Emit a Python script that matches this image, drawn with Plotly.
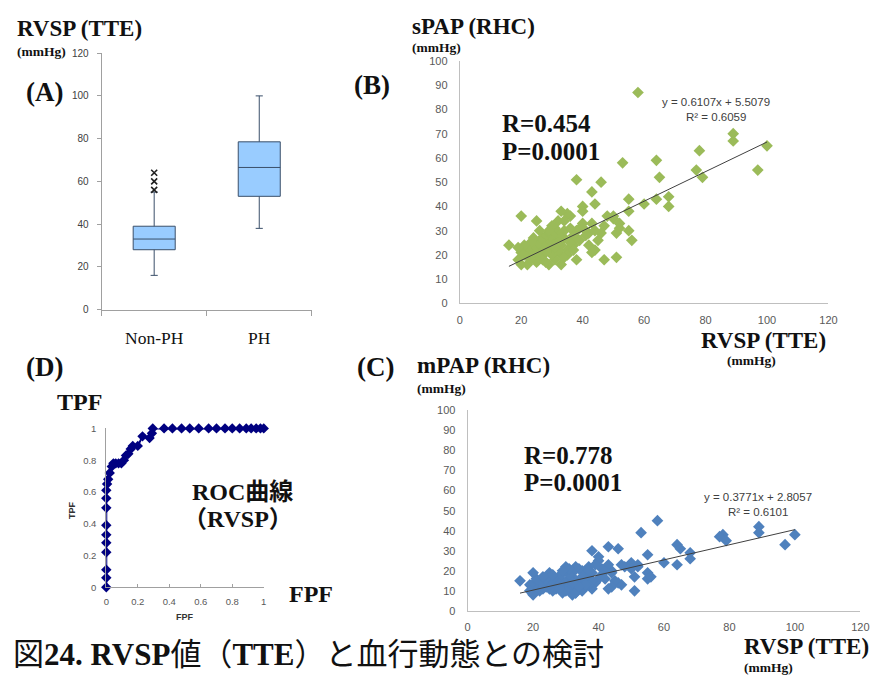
import plotly.graph_objects as go

W, H = 892, 681


def px(x):
    return x / W


def py(y):
    return 1 - y / H


SERIF = "Liberation Serif, Times New Roman, Noto Sans CJK JP"
SANS = "Liberation Sans, Arial, sans-serif"

# ---------------- (A) box plot ----------------
groups = ["Non-PH", "PH"]
q1_vals = [28, 53]
median_vals = [33, 66.5]
q3_vals = [39, 78.5]
lower_whisker = [16, 38]
upper_whisker = [55, 100]
outlier_group = ["Non-PH", "Non-PH", "Non-PH"]
outlier_vals = [56, 60, 64]

# ---------------- (B)/(C) scatter: RVSP (TTE) vs sPAP / mPAP (RHC) ----------------
rvsp = [100, 97, 89, 89, 78, 77, 79, 68, 68, 64, 65, 64, 60, 58, 55, 55, 55, 56, 53, 52,
        51, 51, 50, 52, 50, 48, 47, 46, 46, 47, 45, 44, 43, 44, 43, 43, 42, 41, 40, 40,
        41, 40, 39, 38, 38, 38, 38, 37, 37, 36, 36, 35, 35, 34, 34, 34, 33, 33, 33, 33,
        32, 32, 32, 31, 31, 31, 30, 30, 30, 29, 29, 29, 28, 28, 28, 27, 27, 27, 26, 26,
        26, 25, 25, 25, 25, 24, 24, 23, 23, 22, 22, 21, 21, 20, 20, 20, 19, 19, 16, 35,
        36, 37, 39, 42, 44, 31, 30, 29, 26, 33, 34, 28, 23, 32]
spap = [65, 55, 70, 67, 63, 55, 52, 44, 40, 59, 52, 43, 41, 87, 43, 38, 30, 26, 58, 33,
        19, 29, 35, 31, 36, 36, 18, 50, 29, 32, 26, 22, 46, 41, 21, 33, 29, 30, 40, 38,
        28, 33, 31, 51, 18, 30, 27, 24, 28, 36, 25, 37, 22, 30, 34, 27, 38, 16, 24, 20,
        29, 34, 22, 26, 18, 31, 25, 28, 20, 16, 23, 27, 25, 21, 28, 18, 24, 27, 22, 26,
        19, 34, 24, 20, 17, 27, 22, 20, 25, 16, 22, 20, 24, 36, 16, 21, 23, 18, 24, 20,
        31, 22, 26, 24, 30, 23, 32, 30, 30, 27, 19, 17, 18, 25]
mpap = [38, 33, 42, 39, 38, 37, 35, 29, 26, 33, 31, 23, 24, 45, 28, 19, 16, 17, 39, 22,
        10, 17, 24, 23, 21, 22, 13, 31, 14, 23, 15, 12, 32, 20, 11, 23, 20, 21, 27, 25,
        18, 16, 14, 30, 11, 19, 15, 13, 22, 17, 12, 20, 10, 15, 21, 13, 22, 9, 11, 14,
        17, 19, 8, 16, 12, 18, 14, 13, 10, 9, 15, 19, 12, 14, 17, 11, 13, 15, 12, 16,
        10, 19, 14, 11, 13, 16, 12, 14, 11, 10, 13, 16, 15, 19, 8, 12, 13, 10, 15, 17,
        13, 20, 23, 16, 19, 21, 22, 20, 18, 9, 12, 11, 17, 14]

spap_slope, spap_intercept = 0.6107, 5.5079
mpap_slope, mpap_intercept = 0.3771, 2.8057

# ---------------- (D) ROC curve ----------------
fpf = [0, 0, 0, 0, 0, 0, 0, 0, 0, 0, 0.005, 0.012, 0.022, 0.035, 0.045, 0.06, 0.078,
       0.096, 0.112, 0.125, 0.14, 0.155, 0.168, 0.2, 0.23, 0.275, 0.29, 0.295, 0.367,
       0.42, 0.478, 0.53, 0.587, 0.65, 0.70, 0.754, 0.80, 0.847, 0.889, 0.92, 0.952,
       0.979, 1.0]
tpf = [0, 0.06, 0.11, 0.22, 0.28, 0.33, 0.39, 0.5, 0.56, 0.61, 0.65, 0.68, 0.72, 0.76,
       0.78, 0.78, 0.78, 0.78, 0.8, 0.83, 0.84, 0.87, 0.89, 0.89, 0.95, 0.94, 0.97, 1, 1,
       1, 1, 1, 1, 1, 1, 1, 1, 1, 1, 1, 1, 1, 1]

fig = go.Figure()

# (A)
fig.add_trace(go.Box(
    x=groups, q1=q1_vals, median=median_vals, q3=q3_vals,
    lowerfence=lower_whisker, upperfence=upper_whisker,
    boxpoints=False, width=0.4, whiskerwidth=0.17,
    fillcolor="#99CCFF", line=dict(color="#3A4F6A", width=1),
    xaxis="x", yaxis="y", showlegend=False))
fig.add_trace(go.Scatter(
    x=outlier_group, y=outlier_vals, mode="markers",
    marker=dict(symbol="x-thin", size=6, line=dict(color="#202020", width=1.6)),
    xaxis="x", yaxis="y", showlegend=False, cliponaxis=False))

# (B)
xmin, xmax = min(rvsp), max(rvsp)
fig.add_trace(go.Scatter(
    x=rvsp, y=spap, mode="markers",
    marker=dict(symbol="diamond", size=9, color="#9BBB59"),
    xaxis="x2", yaxis="y2", showlegend=False, cliponaxis=False))
fig.add_trace(go.Scatter(
    x=[xmin, xmax], y=[spap_slope * xmin + spap_intercept, spap_slope * xmax + spap_intercept],
    mode="lines", line=dict(color="#404040", width=1),
    xaxis="x2", yaxis="y2", showlegend=False))

# (C)
fig.add_trace(go.Scatter(
    x=rvsp, y=mpap, mode="markers",
    marker=dict(symbol="diamond", size=9, color="#4F81BD"),
    xaxis="x3", yaxis="y3", showlegend=False, cliponaxis=False))
fig.add_trace(go.Scatter(
    x=[xmin, xmax], y=[mpap_slope * xmin + mpap_intercept, mpap_slope * xmax + mpap_intercept],
    mode="lines", line=dict(color="#404040", width=1),
    xaxis="x3", yaxis="y3", showlegend=False))

# (D)
fig.add_trace(go.Scatter(
    x=fpf, y=tpf, mode="lines+markers",
    line=dict(color="#000080", width=2),
    marker=dict(symbol="diamond", size=8, color="#000080"),
    xaxis="x4", yaxis="y4", showlegend=False, cliponaxis=False))

axis_common = dict(showgrid=False, zeroline=False, showline=True, linecolor="#BFBFBF",
                   linewidth=1, fixedrange=True)
tickfont_s = dict(family=SANS, size=11, color="#595959")

fig.update_layout(
    width=W, height=H, margin=dict(l=0, r=0, t=0, b=0),
    paper_bgcolor="white", plot_bgcolor="white",
    xaxis=dict(axis_common, domain=[px(100), px(313)], anchor="y", type="category",
               range=[-0.5, 1.5], tickson="boundaries", ticks="outside", ticklen=5,
               tickcolor="#A0A0A0", linecolor="#A0A0A0",
               tickfont=dict(family=SERIF, size=17.5, color="#111111"),
               ticklabelstandoff=12),
    yaxis=dict(axis_common, domain=[py(309), py(48)], anchor="x", range=[0, 120],
               tickvals=[0, 20, 40, 60, 80, 100, 120], ticks="outside", ticklen=4,
               tickcolor="#A0A0A0", linecolor="#A0A0A0",
               tickfont=dict(family=SANS, size=10, color="#404040"), ticklabelstandoff=6),
    xaxis2=dict(axis_common, domain=[px(463), px(836.7)], anchor="y2", range=[0, 120],
                tickvals=[0, 20, 40, 60, 80, 100, 120], ticks="", tickfont=tickfont_s,
                ticklabelstandoff=6),
    yaxis2=dict(axis_common, domain=[py(302.7), py(56)], anchor="x2", range=[0, 100],
                tickvals=list(range(0, 101, 10)), ticks="", tickfont=tickfont_s,
                ticklabelstandoff=9),
    xaxis3=dict(axis_common, domain=[px(471), px(869)], anchor="y3", range=[0, 120],
                tickvals=[0, 20, 40, 60, 80, 100, 120], ticks="", tickfont=tickfont_s,
                ticklabelstandoff=6),
    yaxis3=dict(axis_common, domain=[py(615.7), py(411.7)], anchor="x3", range=[0, 100],
                tickvals=list(range(0, 101, 10)), ticks="", tickfont=tickfont_s,
                ticklabelstandoff=9),
    xaxis4=dict(axis_common, domain=[px(104.7), px(264.3)], anchor="y4", range=[0, 1],
                tickvals=[0, 0.2, 0.4, 0.6, 0.8, 1], ticktext=["0", "0.2", "0.4", "0.6", "0.8", "1"],
                ticks="inside", ticklen=3, tickcolor="#A0A0A0", linecolor="#A0A0A0",
                tickfont=dict(family=SANS, size=9.5, color="#595959"), ticklabelstandoff=5),
    yaxis4=dict(axis_common, domain=[py(591.7), py(430)], anchor="x4", range=[0, 1],
                tickvals=[0, 0.2, 0.4, 0.6, 0.8, 1], ticktext=["0", "0.2", "0.4", "0.6", "0.8", "1"],
                ticks="", linecolor="#A0A0A0",
                tickfont=dict(family=SANS, size=9.5, color="#595959"), ticklabelstandoff=7),
)


def ann(text, x, y, size, xanchor="left", family=SERIF, color="#111111", textangle=0):
    fig.add_annotation(text=text, x=px(x), y=py(y), xref="paper", yref="paper",
                       xanchor=xanchor, yanchor="middle", showarrow=False,
                       textangle=textangle,
                       font=dict(family=family, size=size, color=color))


# (A) texts
ann("<b>RVSP (TTE)</b>", 12, 23, 23)
ann("<b>(mmHg)</b>", 12, 46, 13.5)
ann("<b>(A)</b>", 42, 88, 27, xanchor="center")

# (B) texts
ann("<b>sPAP (RHC)</b>", 413, 21, 23)
ann("<b>(mmHg)</b>", 413, 42, 13.5)
ann("<b>(B)</b>", 374, 80, 27, xanchor="center")
ann("<b>R=0.454</b>", 504, 120, 25)
ann("<b>P=0.0001</b>", 504, 148, 25)
ann("y = 0.6107x + 5.5079", 723, 98, 11.5, xanchor="center", family=SANS, color="#404040")
ann("R² = 0.6059", 723, 113, 11.5, xanchor="center", family=SANS, color="#404040")
ann("<b>RVSP (TTE)</b>", 705, 340, 23)
ann("<b>(mmHg)</b>", 732, 361, 13.5)

# (C) texts
ann("<b>(C)</b>", 378, 367, 27, xanchor="center")
ann("<b>mPAP (RHC)</b>", 418, 366, 23)
ann("<b>(mmHg)</b>", 418, 389, 13.5)
ann("<b>R=0.778</b>", 526, 458, 25)
ann("<b>P=0.0001</b>", 526, 485, 25)
ann("y = 0.3771x + 2.8057", 765, 500, 11.5, xanchor="center", family=SANS, color="#404040")
ann("R² = 0.6101", 765, 515, 11.5, xanchor="center", family=SANS, color="#404040")
ann("<b>RVSP (TTE)</b>", 749, 652, 23)
ann("<b>(mmHg)</b>", 749, 673, 13.5)

# (D) texts
ann("<b>(D)</b>", 42, 367, 27, xanchor="center")
ann("<b>TPF</b>", 78, 403, 24, xanchor="center")
ann("<b>ROC曲線</b>", 190, 495, 24)
ann("<b>（RVSP）</b>", 180, 522, 24)
ann("<b>FPF</b>", 312, 599, 24, xanchor="center")
ann("<b>TPF</b>", 70, 513, 9, xanchor="center", family=SANS, color="#333333", textangle=-90)
ann("<b>FPF</b>", 184, 622, 9, xanchor="center", family=SANS, color="#333333")

# caption
ann("図<b>24. RVSP</b>値（<b>TTE</b>）と血行動態との検討", 8, 660, 31)

fig.write_html("out.html")
